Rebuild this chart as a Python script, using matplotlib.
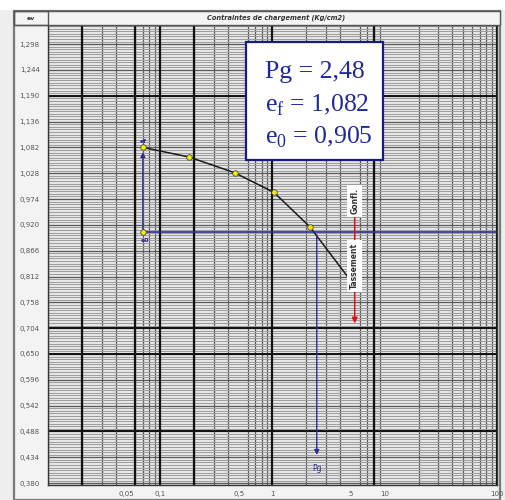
import numpy as np
import matplotlib
matplotlib.use("Agg")
import matplotlib.pyplot as plt
from matplotlib.patches import Rectangle
from matplotlib.ticker import FixedLocator, LogLocator, NullFormatter

# curva de compressao (tensao em kg/cm2, indice de vazios)
pressao = [0.07, 0.18, 0.46, 1.03, 2.15, 4.73]
indice_vazios = [1.082, 1.062, 1.029, 0.988, 0.916, 0.810]
n_pontos = 5  # o ultimo valor e so o fim da curva, sem marcador

pg = 2.48
ef = 1.082
e0 = 0.905
x_ef = 0.07
x_seta = 5.4

y_labels = ["0,380", "0,434", "0,488", "0,542", "0,596", "0,650", "0,704", "0,758",
            "0,812", "0,866", "0,920", "0,974", "1,028", "1,082", "1,136", "1,190",
            "1,244", "1,298"]
y_vals = [float(s.replace(",", ".")) for s in y_labels]
x_labels = ["0,05", "0,1", "0,5", "1", "5", "10", "100"]
x_vals = [float(s.replace(",", ".")) for s in x_labels]

# linhas mais grossas (como aparecem no original)
x_grossas = [0.02, 0.06, 0.1, 0.2, 1, 8, 100]
y_grossas = [1.190, 0.704, 0.650, 0.488]

W, H = 506, 500
AZUL = "#2b2f8f"


def caixa(fig, x0, y0, w, h, **kw):
    r = Rectangle((x0 / W, 1 - (y0 + h) / H), w / W, h / H,
                  transform=fig.transFigure, **kw)
    fig.add_artist(r)
    return r


fig = plt.figure(figsize=(W / 100, H / 100), dpi=100)
fig.patch.set_facecolor("white")

# moldura geral e cabecalho
caixa(fig, 0, 10, W, H - 10, facecolor="#eeeeee", edgecolor="none", zorder=-3)
caixa(fig, 14, 11, 486, 489, facecolor="#f3f3f3", edgecolor="#7a7a7a", lw=1.6, zorder=-2)
caixa(fig, 14, 11, 486, 14, facecolor="#f4f4f4", edgecolor="#555555", lw=1.0, zorder=1)
caixa(fig, 14, 11, 34, 14, facecolor="none", edgecolor="#555555", lw=1.0, zorder=1.1)
fig.text(31 / W, 1 - 18 / H, "ev", fontsize=4.5, fontweight="bold", color="#333333",
         ha="center", va="center", zorder=2)
fig.text(276 / W, 1 - 18 / H, "Contraintes de chargement (Kg/cm2)", fontsize=4.8,
         fontstyle="italic", fontweight="bold", color="#333333", ha="center", va="center",
         zorder=2)

ax = fig.add_axes([48 / W, 1 - 485 / H, 449 / W, 460 / H])
ax.set_facecolor("#e6e6e6")
ax.set_xscale("log")
ax.set_xlim(0.01, 100)
ax.set_ylim(0.376, 1.338)

# grade fina
ax.yaxis.set_minor_locator(FixedLocator(np.arange(0.380 - 0.0054 * 2, 1.34, 0.0054)))
ax.xaxis.set_minor_locator(LogLocator(base=10, subs=np.arange(1, 10), numticks=20))
ax.xaxis.set_minor_formatter(NullFormatter())
ax.grid(True, which="minor", axis="y", color="#9c9c9c", lw=0.7)
ax.grid(True, which="minor", axis="x", color="#5c5c5c", lw=0.9)
ax.set_yticks(y_vals)
ax.set_yticklabels(y_labels)
ax.set_xticks(x_vals)
ax.set_xticklabels(x_labels)
ax.grid(True, which="major", axis="y", color="#5a5a5a", lw=0.9)
ax.grid(False, which="major", axis="x")
ax.tick_params(axis="both", which="both", length=0, labelsize=5, labelcolor="#555555")
ax.tick_params(axis="y", pad=6)
ax.tick_params(axis="x", pad=4)
for xv in x_grossas:
    ax.axvline(xv, color="#111111", lw=1.6, zorder=2.5)
for yv in y_grossas:
    ax.axhline(yv, color="#111111", lw=1.4, zorder=2.5)
for s in ax.spines.values():
    s.set_color("#333333")
    s.set_linewidth(1.0)

# curva e pontos
ax.plot(pressao, indice_vazios, color="#1a1a1a", lw=1.1, zorder=4)
ax.plot(pressao[:n_pontos], indice_vazios[:n_pontos], "o", ms=4, mfc="#f5f000",
        mec="#444444", mew=0.6, zorder=6)

# construcao de ef, e0 e Pg
ax.hlines(e0, x_ef, 100, color=AZUL, lw=1.2, zorder=5)
ax.annotate("", xy=(x_ef, ef - 0.004), xytext=(x_ef, e0),
            arrowprops=dict(arrowstyle="-|>", color=AZUL, lw=1.0, mutation_scale=7),
            zorder=5)
ax.annotate("", xy=(pg, 0.433), xytext=(pg, e0),
            arrowprops=dict(arrowstyle="-|>", color=AZUL, lw=1.0, mutation_scale=7),
            zorder=5)
ax.plot([x_ef], [e0], "o", ms=4, mfc="#f5f000", mec="#444444", mew=0.6, zorder=6)
ax.text(x_ef, ef + 0.013, "ef", color=AZUL, fontsize=4.5, fontweight="bold",
        ha="center", va="center", zorder=7)
ax.text(x_ef * 1.05, e0 - 0.017, "e0", color=AZUL, fontsize=4.5, fontweight="bold",
        ha="center", va="center", zorder=7)
ax.text(pg, 0.410, "Pg", color=AZUL, fontsize=5.5, ha="center", va="center", zorder=7)

# seta vermelha de gonflement / tassement
ax.annotate("", xy=(x_seta, 0.708), xytext=(x_seta, 1.005),
            arrowprops=dict(arrowstyle="-|>", color="#e01010", lw=1.1, mutation_scale=8),
            zorder=5)
etq = dict(facecolor="white", edgecolor="none", pad=2.2)
ax.text(x_seta, 0.970, "Gonfl.", rotation=90, fontsize=5.5, fontweight="bold",
        color="#333333", ha="center", va="center", bbox=etq, zorder=7)
ax.text(x_seta, 0.834, "Tassement", rotation=90, fontsize=5.5, fontweight="bold",
        color="#333333", ha="center", va="center", bbox=etq, zorder=7)

# quadro de resultados
ax.add_patch(Rectangle((0.441, 0.7065), 0.305, 0.2565, transform=ax.transAxes,
                       facecolor="white", edgecolor="#1a1a80", lw=1.6, zorder=8))
plt.rcParams["mathtext.fontset"] = "custom"
plt.rcParams["mathtext.rm"] = "Liberation Serif"
estilo = dict(transform=ax.transAxes, fontsize=18.5, family="Liberation Serif",
              color="#1f2a9a", ha="left", va="center", zorder=9)
ax.text(0.483, 0.898, "Pg = 2,48", **estilo)
ax.text(0.483, 0.826, r"e$_\mathregular{f}$ = 1,082", **estilo)
ax.text(0.483, 0.757, r"e$_\mathregular{0}$ = 0,905", **estilo)

fig.savefig("out.png", dpi=100)
